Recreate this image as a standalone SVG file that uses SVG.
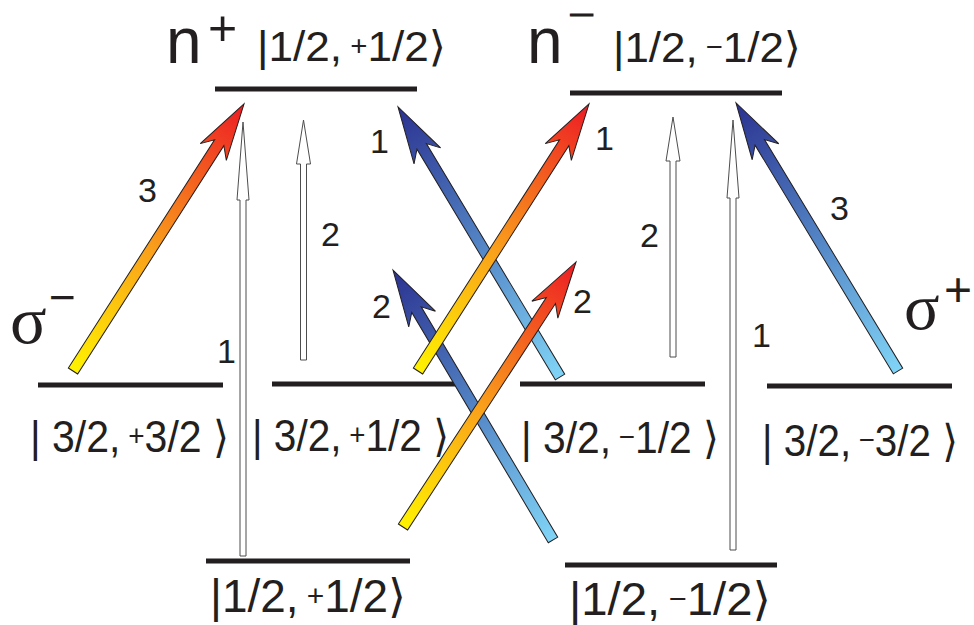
<svg xmlns="http://www.w3.org/2000/svg" width="974" height="625" viewBox="0 0 974 625">
<defs>
<linearGradient id="gOrange" x1="0" y1="0" x2="1" y2="0">
<stop offset="0" stop-color="#fff200"/>
<stop offset="0.45" stop-color="#f9a11b"/>
<stop offset="1" stop-color="#ed1c24"/>
</linearGradient>
<linearGradient id="gBlue" x1="0" y1="0" x2="1" y2="0">
<stop offset="0" stop-color="#80d4f6"/>
<stop offset="0.5" stop-color="#5283c4"/>
<stop offset="1" stop-color="#2b3290"/>
</linearGradient>
</defs>
<style>
.lvl{stroke:#231f20;stroke-width:5;fill:none}
.ket{font-family:"Liberation Sans","DejaVu Sans",sans-serif;fill:#231f20}
.num{font-family:"Liberation Sans",Arial,sans-serif;font-size:34px;fill:#231f20}
.big{font-family:"Liberation Sans",Arial,sans-serif;fill:#231f20}
.sig{font-family:"Liberation Serif","Times New Roman",serif;fill:#231f20}
.ar{stroke:#231f20;stroke-width:1;stroke-linejoin:miter}
.or{fill:url(#gOrange)}
.bl{fill:url(#gBlue)}
.wh{fill:#fff;stroke:#4d4d4d;stroke-width:1}
</style>
<rect width="974" height="625" fill="#fff"/>

<g id="level-n-plus">
<line class="lvl" x1="215" y1="89" x2="417" y2="89"/>
<text class="big" x="166" y="63" font-size="64">n</text>
<text class="big" x="208" y="45" font-size="50">+</text>
<text class="ket" x="257" y="61" font-size="42" textLength="189" lengthAdjust="spacingAndGlyphs">|1/2,<tspan font-size="28" dy="-6"> +</tspan><tspan dy="6">1/2⟩</tspan></text>
</g>
<g id="level-n-minus">
<line class="lvl" x1="570" y1="93" x2="782" y2="93"/>
<text class="big" x="527" y="63" font-size="64">n</text>
<text class="big" x="569" y="24" font-size="27" stroke="#231f20" stroke-width="1.2" textLength="26" lengthAdjust="spacingAndGlyphs">−</text>
<text class="ket" x="613" y="62" font-size="42" textLength="188" lengthAdjust="spacingAndGlyphs">|1/2,<tspan font-size="28" dy="-6"> −</tspan><tspan dy="6">1/2⟩</tspan></text>
</g>
<g id="level-32-p32">
<line class="lvl" x1="38" y1="385" x2="223" y2="385"/>
<text class="ket" x="30" y="452" font-size="44" textLength="199" lengthAdjust="spacingAndGlyphs">| 3/2,<tspan font-size="30" dy="-6"> +</tspan><tspan dy="6">3/2 ⟩</tspan></text>
</g>
<g id="level-32-p12">
<line class="lvl" x1="272" y1="384" x2="457" y2="384"/>
<text class="ket" x="252" y="451" font-size="44" textLength="197" lengthAdjust="spacingAndGlyphs">| 3/2,<tspan font-size="30" dy="-6"> +</tspan><tspan dy="6">1/2 ⟩</tspan></text>
</g>
<g id="level-32-m12">
<line class="lvl" x1="520" y1="384" x2="705" y2="384"/>
<text class="ket" x="521" y="453" font-size="44" textLength="198" lengthAdjust="spacingAndGlyphs">| 3/2,<tspan font-size="30" dy="-6"> −</tspan><tspan dy="6">1/2 ⟩</tspan></text>
</g>
<g id="level-32-m32">
<line class="lvl" x1="767" y1="386" x2="952" y2="386"/>
<text class="ket" x="762" y="456" font-size="44" textLength="196" lengthAdjust="spacingAndGlyphs">| 3/2,<tspan font-size="30" dy="-6"> −</tspan><tspan dy="6">3/2 ⟩</tspan></text>
</g>
<g id="level-12-p12">
<line class="lvl" x1="206" y1="561" x2="410" y2="561"/>
<text class="ket" x="210" y="612" font-size="46" textLength="196" lengthAdjust="spacingAndGlyphs">|1/2,<tspan font-size="30" dy="-6"> +</tspan><tspan dy="6">1/2⟩</tspan></text>
</g>
<g id="level-12-m12">
<line class="lvl" x1="565" y1="565" x2="777" y2="565"/>
<text class="ket" x="569" y="615" font-size="46" textLength="202" lengthAdjust="spacingAndGlyphs">|1/2,<tspan font-size="30" dy="-6"> −</tspan><tspan dy="6">1/2⟩</tspan></text>
</g>
<g id="label-sigma-minus">
<text class="sig" x="10" y="343" font-size="68">σ</text>
<text class="big" x="49" y="313" font-size="46">−</text>
</g>
<g id="label-sigma-plus">
<text class="sig" x="904" y="329" font-size="66">σ</text>
<text class="big" x="944" y="306" font-size="48">+</text>
</g>

<g id="connectors">
<path class="wh" d="M240,556 V200 H237 L243,122 L249,200 H246 V556 Z"/>
<path class="wh" d="M300.5,360 V164 H296.5 L303.5,120 L310.5,164 H306.5 V360 Z"/>
<path class="wh" d="M670,357 V161 H666 L673,117 L680,161 H676 V357 Z"/>
<path class="wh" d="M730,550 V198 H727 L733,120 L739,198 H736 V550 Z"/>
<path class="ar bl" transform="translate(560,377) rotate(-120.96)" d="M0,-5.5 H268.9 L257.9,-15.5 L314.9,0 L257.9,15.5 L268.9,5.5 H0 Z"/>
<path class="ar bl" transform="translate(553,540) rotate(-120.65)" d="M0,-5.5 H267.8 L256.8,-15.5 L313.8,0 L256.8,15.5 L267.8,5.5 H0 Z"/>
<path class="ar bl" transform="translate(898,371) rotate(-121.15)" d="M0,-5.5 H267.2 L256.2,-15.5 L313.2,0 L256.2,15.5 L267.2,5.5 H0 Z"/>
<path class="ar or" transform="translate(73,371) rotate(-57.36)" d="M0,-5.5 H271.1 L260.1,-15.5 L317.1,0 L260.1,15.5 L271.1,5.5 H0 Z"/>
<path class="ar or" transform="translate(418,371) rotate(-57.36)" d="M0,-5.5 H271.1 L260.1,-15.5 L317.1,0 L260.1,15.5 L271.1,5.5 H0 Z"/>
<path class="ar or" transform="translate(403,527) rotate(-56.86)" d="M0,-5.5 H270.5 L259.5,-15.5 L316.5,0 L259.5,15.5 L270.5,5.5 H0 Z"/>
<text class="num" x="138" y="202">3</text>
<text class="num" x="217" y="363">1</text>
<text class="num" x="321" y="246">2</text>
<text class="num" x="370" y="153">1</text>
<text class="num" x="372" y="318">2</text>
<text class="num" x="595" y="150">1</text>
<text class="num" x="573" y="313">2</text>
<text class="num" x="640" y="247">2</text>
<text class="num" x="752" y="347">1</text>
<text class="num" x="830" y="220">3</text>
</g>
</svg>
